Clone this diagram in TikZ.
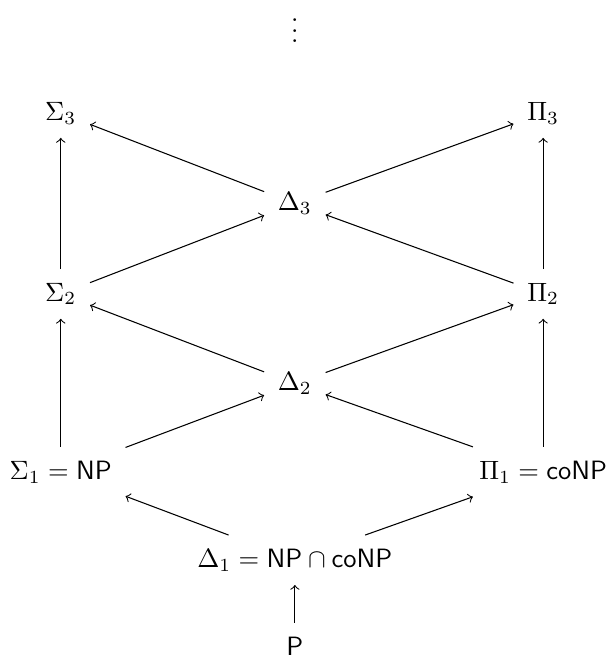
\documentclass[tikz,border=0pt]{standalone}
\begin{document}
\begin{tikzpicture}[>=to, lop/.style={inner sep=5pt}]
    % 1. Khung hình
    \useasboundingbox (0, 0) rectangle (8.06, -8.73);

    % 2. Các lớp trong phân cấp đa thức
    \node[lop] (dots) at (3.912, -0.305) {$\vdots$};
    \node[lop] (s3) at (0.806, -1.50) {$\Sigma_3$};
    \node[lop] (p3) at (7.206, -1.50) {$\Pi_3$};
    \node[lop] (d3) at (3.912, -2.70) {$\Delta_3$};
    \node[lop] (s2) at (0.806, -3.90) {$\Sigma_2$};
    \node[lop] (p2) at (7.206, -3.90) {$\Pi_2$};
    \node[lop] (d2) at (3.912, -5.09) {$\Delta_2$};
    \node[lop] (s1) at (0.806, -6.26) {$\Sigma_1 = \mathsf{NP}$};
    \node[lop] (p1) at (7.206, -6.26) {$\Pi_1 = \mathsf{coNP}$};
    \node[lop] (d1) at (3.912, -7.43) {$\Delta_1 = \mathsf{NP} \cap \mathsf{coNP}$};
    \node[lop] (pp) at (3.912, -8.57) {$\mathsf{P}$};

    % 3. Các mũi tên bao hàm
    \draw[->] (pp) -- (d1);
    \draw[->] (d1) -- (s1);
    \draw[->] (d1) -- (p1);
    \draw[->] (s1) -- (d2);
    \draw[->] (p1) -- (d2);
    \draw[->] (s1) -- (s2);
    \draw[->] (p1) -- (p2);
    \draw[->] (d2) -- (s2);
    \draw[->] (d2) -- (p2);
    \draw[->] (s2) -- (d3);
    \draw[->] (p2) -- (d3);
    \draw[->] (s2) -- (s3);
    \draw[->] (p2) -- (p3);
    \draw[->] (d3) -- (s3);
    \draw[->] (d3) -- (p3);
\end{tikzpicture}
\end{document}
